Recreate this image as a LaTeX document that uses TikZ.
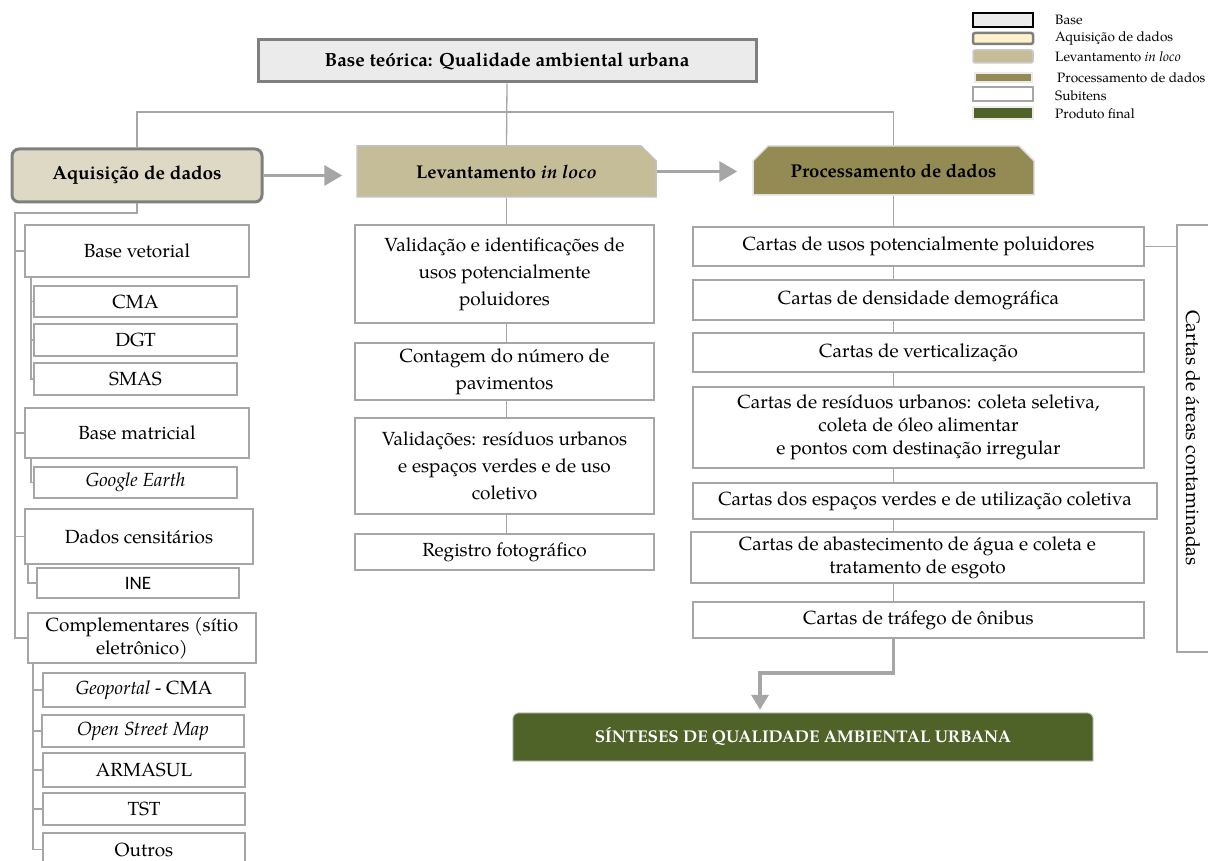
\documentclass[tikz,border=0pt]{standalone}
\usepackage{fontspec}
\setmainfont{texgyrepagella}[Extension=.otf,UprightFont=*-regular,BoldFont=*-bold,ItalicFont=*-italic,BoldItalicFont=*-bolditalic]
\setsansfont{Carlito}
\usetikzlibrary{arrows.meta,backgrounds,shapes.misc}

\definecolor{basefill}{HTML}{EBEBEB}
\definecolor{framegray}{HTML}{7F7F7F}
\definecolor{aqfill}{HTML}{DDD9C4}
\definecolor{levfill}{HTML}{C4BD97}
\definecolor{procfill}{HTML}{948A54}
\definecolor{prodfill}{HTML}{4F6228}
\definecolor{linegray}{HTML}{A6A6A6}
\definecolor{creamfill}{HTML}{FFF2CC}

\tikzset{
  every node/.style={inner sep=0pt, align=center},
  sz/.style 2 args={minimum width=#1pt, minimum height=#2pt},
  basebox/.style={draw=framegray, line width=3pt, fill=basefill, font=\fontsize{19}{23}\selectfont\bfseries},
  aqbox/.style={draw=framegray, line width=3pt, fill=aqfill, rounded corners=7pt, font=\fontsize{19}{23}\selectfont\bfseries},
  levbox/.style={chamfered rectangle, chamfered rectangle corners=north east, chamfered rectangle xsep=8pt, chamfered rectangle ysep=8pt,
    draw=linegray!70, line width=1.5pt, fill=levfill, font=\fontsize{18.5}{22}\selectfont\bfseries},
  procbox/.style={chamfered rectangle, chamfered rectangle corners={north east,north west}, chamfered rectangle xsep=8pt, chamfered rectangle ysep=8pt,
    draw=black!12, line width=1.5pt, fill=procfill, font=\fontsize{18.5}{22}\selectfont\bfseries},
  subbox/.style={draw=linegray, line width=1.8pt, fill=white, font=\fontsize{19}{23}\selectfont},
  midbox/.style={subbox, font=\fontsize{19}{27}\selectfont},
  finalbox/.style={text=white, font=\fontsize{17}{20}\selectfont\bfseries},
  treeline/.style={draw=linegray, line width=1.3pt},
  bigarrow/.style={draw=linegray, line width=3.5pt, -{Triangle[length=18pt,width=20pt]}},
  legtext/.style={anchor=west, font=\fontsize{13.6}{15}\selectfont},
}

\begin{document}
\begin{tikzpicture}[x=1pt,y=-1pt]
  \useasboundingbox (0,0) rectangle (1208,861); %page = reference size in px

  %Header row
  \node[basebox, sz={498}{42}] (top) at (507,61) {Base teórica: Qualidade ambiental urbana};
  \node[aqbox, sz={250}{53}] (aq) at (137,175.5) {Aquisição de dados};
  \node[levbox, sz={299}{51}] (lev) at (506.5,171.5) {Levantamento \textit{in loco}};
  \node[procbox, sz={281}{49}] (proc) at (893.5,170.5) {Processamento de dados};

  \coordinate (hbar) at (507,112); %split line under the base box
  \draw[treeline] (top.south) -- (lev.north);
  \draw[treeline] (aq.north) |- (hbar) -| (proc.north);
  \draw[bigarrow, shorten >=14pt] (aq.east) -- (aq.east -| lev.west);
  \draw[bigarrow, shorten >=15pt] (lev.east) -- (lev.east -| proc.west);

  %Aquisicao de dados: left column
  \node[subbox, sz={224}{52}] (bvet) at (137,251) {Base vetorial};
  \node[subbox, sz={203}{31}] (cma) at (135.5,301.5) {CMA};
  \node[subbox, sz={203}{32}] (dgt) at (135.5,340) {DGT};
  \node[subbox, sz={203}{32}] (smas) at (135.5,379) {SMAS};
  \node[subbox, sz={224}{50}] (bmat) at (137,433) {Base matricial};
  \node[subbox, sz={203}{31}] (goog) at (135.5,482.5) {\textit{Google Earth}};
  \node[subbox, sz={228}{55}] (dcen) at (139,536.5) {Dados censitários};
  \node[subbox, sz={202}{30}] (ine) at (138,583) {\sffamily INE};
  \node[subbox, sz={228}{50}] (comp) at (142,638) {Complementares (sítio\\eletrônico)};
  \node[subbox, sz={202}{34}] (geo) at (144,690) {\textit{Geoportal} - CMA};
  \node[subbox, sz={202}{32}] (osm) at (143,731) {\textit{Open Street Map}};
  \node[subbox, sz={202}{34}] (arm) at (144,770) {ARMASUL};
  \node[subbox, sz={202}{32}] (tst) at (144,809) {TST};
  \node[subbox, sz={202}{33}] (outr) at (144,849.5) {Outros};

  \coordinate (trunk) at (15,213); %main trunk
  \draw[treeline] (aq.south) |- (trunk) -- (trunk |- comp.west) -- (comp.west);
  \foreach \b in {bvet,bmat,dcen}
    \draw[treeline] (trunk |- \b.west) -- (\b.west);

  \coordinate (vvet) at ([xshift=7pt]bvet.south west);
  \draw[treeline] (vvet) |- (smas.west);
  \foreach \s in {cma,dgt}
    \draw[treeline] (vvet |- \s.west) -- (\s.west);
  \coordinate (vmat) at ([xshift=7pt]bmat.south west);
  \draw[treeline] (vmat) |- (goog.west);
  \coordinate (vcen) at ([xshift=4pt]dcen.south west);
  \draw[treeline] (vcen) |- (ine.west);
  \coordinate (vcomp) at ([xshift=6pt]comp.south west);
  \draw[treeline] (vcomp) |- (outr.west);
  \foreach \s in {geo,osm,arm,tst}
    \draw[treeline] (vcomp |- \s.west) -- (\s.west);

  %Levantamento in loco: middle column
  \node[midbox, sz={299}{98}] (m1) at (504.5,274) {Validação e identificações de\\usos potencialmente\\poluidores};
  \node[midbox, sz={299}{57}] (m2) at (504.5,371.5) {Contagem do número de\\pavimentos};
  \node[midbox, sz={299}{96}] (m3) at (504.5,466) {Validações: resíduos urbanos\\e espaços verdes e de uso\\coletivo};
  \node[midbox, sz={299}{36}] (m4) at (504.5,552) {Registro fotográfico};

  \draw[treeline] (lev.south) -- (lev.south |- m1.north);
  \foreach \a/\b in {m1/m2,m2/m3,m3/m4}
    \draw[treeline] (\a.south -| lev.south) -- (\b.north -| lev.south);

  %Processamento de dados: right column
  \node[subbox, sz={451}{39}] (r1) at (918.5,246.5) {Cartas de usos potencialmente poluidores};
  \node[subbox, sz={451}{40}] (r2) at (918.5,300) {Cartas de densidade demográfica};
  \node[subbox, sz={451}{39}] (r3) at (918.5,352.5) {Cartas de verticalização};
  \node[subbox, sz={451}{81}] (r4) at (918.5,427.5) {Cartas de resíduos urbanos: coleta seletiva,\\coleta de óleo alimentar\\e pontos com destinação irregular};
  \node[subbox, sz={464}{36}] (r5) at (925,501) {Cartas dos espaços verdes e de utilização coletiva};
  \node[subbox, sz={453}{51}] (r6) at (917.5,557.5) {Cartas de abastecimento de água e coleta e\\tratamento de esgoto};
  \node[subbox, sz={451}{36}] (r7) at (918.5,620) {Cartas de tráfego de ônibus};

  \draw[treeline] (proc.south) -- (proc.south |- r1.north);
  \foreach \a/\b in {r1/r2,r2/r3,r3/r4,r4/r5,r5/r6,r6/r7}
    \draw[treeline] (\a.south -| proc.south) -- (\b.north -| proc.south);

  %Contaminated areas bracket (runs off the page)
  \node[draw=linegray, line width=1.8pt, sz={60}{427}] (brk) at (1207,438.5) {};
  \node[font=\fontsize{19.4}{23}\selectfont, rotate=-90] (brkt) at (1193,438) {Cartas de áreas contaminadas};
  \draw[treeline] (r1.east) -- (r1.east -| brk.west);

  %Final product
  \node[finalbox, sz={580}{48}] (fin) at (803,737) {SÍNTESES DE QUALIDADE AMBIENTAL URBANA};
  \begin{scope}[on background layer]
    \filldraw[fill=prodfill, draw=black!20, line width=1pt] (fin.south west) [rounded corners=6pt] -- (fin.north west) -- (fin.north east) [sharp corners] -- (fin.south east) -- cycle;
  \end{scope}
  \coordinate (bend) at (760,673);
  \draw[draw=linegray, line width=3.5pt, -{Triangle[length=15pt,width=17pt]}, shorten >=3pt] (r7.south -| proc.south) |- (bend) -- (bend |- fin.north);

  %Legend
  \node[draw=black, line width=2.5pt, fill=basefill, sz={60}{14}] (lgbase) at (1003,20) {};
  \node[draw=framegray, line width=2.5pt, fill=creamfill, rounded corners=2pt, sz={60}{11}] (lgaq) at (1003,38.5) {};
  \node[draw=linegray!60, line width=1.5pt, fill=levfill, rounded corners=2pt, sz={60}{13}] (lglev) at (1003,56.5) {};
  \node[draw=black!8, line width=1.5pt, fill=procfill, sz={57}{9}] (lgproc) at (1003.5,77.5) {};
  \node[draw=linegray, line width=1.5pt, fill=white, sz={60}{14}] (lgsub) at (1003,94) {};
  \node[draw=black!8, line width=1.5pt, fill=prodfill, sz={60}{12}] (lgprod) at (1003,113) {};
  \node[legtext] (lgbaset) at (1055,20) {Base};
  \node[legtext] (lgaqt) at (1055,38.5) {Aquisição de dados};
  \node[legtext] (lglevt) at (1055,56.5) {Levantamento \textit{in loco}};
  \node[legtext] (lgproct) at (1057,77.5) {Processamento de dados};
  \node[legtext] (lgsubt) at (1055,96) {Subitens};
  \node[legtext] (lgprodt) at (1055,114) {Produto final};
\end{tikzpicture}
\end{document}
